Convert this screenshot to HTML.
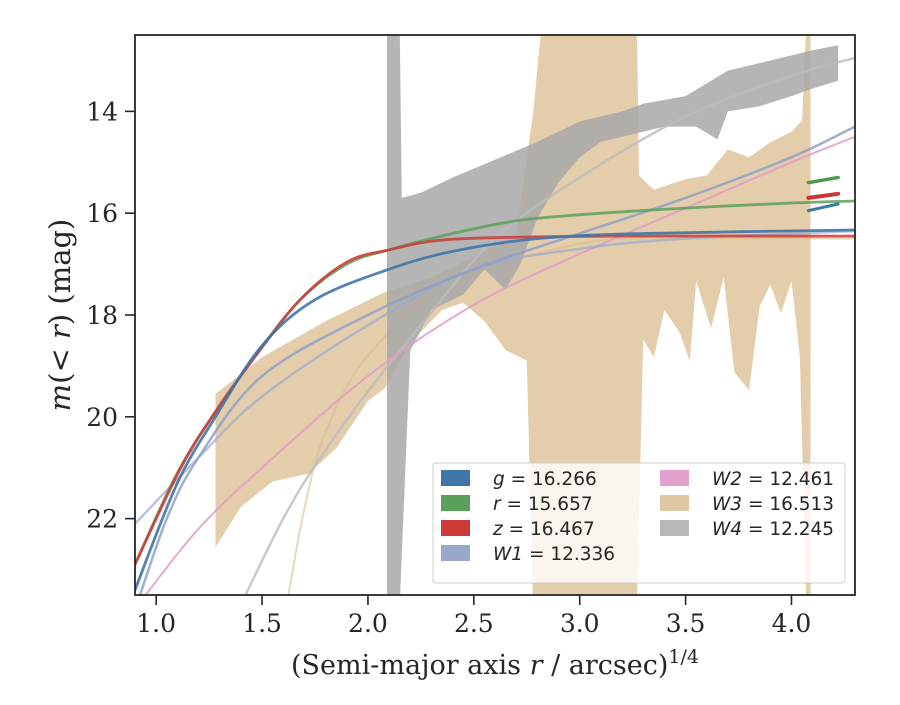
<!DOCTYPE html>
<html><head><meta charset="utf-8">
<style>
body{margin:0;background:#fff;}
svg text{font-family:"DejaVu Serif","Liberation Serif",serif;fill:#262626;}
.leg{font-family:"DejaVu Sans","Liberation Sans",sans-serif;font-size:18.5px;}
</style></head>
<body>
<svg id="chart" width="900" height="700" xmlns="http://www.w3.org/2000/svg">
<defs><clipPath id="clip"><rect x="135" y="35" width="720" height="560"/></clipPath></defs>
<rect width="900" height="700" fill="#fff"/>
<g id="plot" clip-path="url(#clip)"></g>
<rect x="135" y="35" width="720" height="560" fill="none" stroke="#262626" stroke-width="1.8"/>
<g id="axes"></g>
<text x="495" y="674" text-anchor="middle" font-size="27">(Semi-major axis <tspan font-style="italic">r</tspan> / arcsec)<tspan dy="-11" font-size="19">1/4</tspan></text>
<text transform="translate(70,315) rotate(-90)" text-anchor="middle" font-size="29"><tspan font-style="italic">m</tspan>(&lt; <tspan font-style="italic">r</tspan>) (mag)</text>
<g id="legend">
<rect x="433" y="463" width="412" height="120" rx="3" fill="#fff" fill-opacity="0.8" stroke="#ccc"/>
</g>
</svg>
<script>
const X0=0.9,X1=4.3,Y0=12.5,Y1=23.5;
const xTicks=[1.0,1.5,2.0,2.5,3.0,3.5,4.0];
const yTicks=[14,16,18,20,22];
const gX=[0.9,1.1,1.28,1.5,1.75,2.1,2.4,2.8,3.3,4.3];
const gY=[23.4,21.3,20.0,18.6,17.7,17.1,16.75,16.5,16.4,16.33];
const rX=[0.9,1.1,1.28,1.47,1.68,1.9,2.1,2.4,2.7,3.0,3.5,4.0,4.3];
const rY=[22.9,21.1,19.9,18.8,17.7,17.0,16.72,16.4,16.15,16.03,15.9,15.8,15.76];
const zX=[0.9,1.11,1.28,1.47,1.68,1.9,2.1,2.34,2.72,3.2,4.3];
const zY=[22.9,21.05,19.9,18.8,17.7,16.96,16.72,16.53,16.47,16.45,16.45];
const w1X=[0.9,1.05,1.2,1.5,2.0,2.5,3.0,3.5,4.0,4.3];
const w1Y=[23.8,22.0,20.8,19.2,18.0,17.1,16.4,15.7,14.9,14.3];
const w1mX=[0.9,1.2,1.5,2.0,2.5,3.0,3.5,4.3];
const w1mY=[22.1,20.8,19.6,18.2,17.1,16.7,16.5,16.35];
const w2X=[0.95,1.2,1.5,2.0,2.5,3.0,3.5,4.0,4.3];
const w2Y=[23.5,22.2,21.0,19.2,17.8,16.8,15.9,15.0,14.5];
const w4X=[1.41,1.6,1.76,2.0,2.29,2.6,3.0,3.5,4.0,4.3];
const w4Y=[23.6,22.0,20.9,19.5,18.0,16.5,15.3,14.1,13.3,12.95];
const w3mX=[1.62,1.7,1.8,2.0,2.4,3.0,3.5,4.3];
const w3mY=[23.6,21.8,20.3,18.8,17.4,16.6,16.5,16.5];
const segX=[4.08,4.22];
const segG=[15.95,15.82];const segR=[15.4,15.3];const segZ=[15.7,15.62];
const w3hiX=[1.28,1.5,1.8,2.08,2.3,2.5,2.7,2.78,2.82,3.27,3.28,3.35,3.5,3.6,3.7,3.8,3.9,4.0,4.05,4.07,4.09];
const w3hiY=[19.55,18.83,18.12,17.55,17.26,16.87,16.4,14.04,12.3,12.3,15.26,15.54,15.33,15.26,14.75,14.9,14.61,14.4,14.18,12.3,12.3];
const w3loX=[1.28,1.4,1.55,1.72,1.85,2.0,2.08,2.2,2.35,2.45,2.55,2.65,2.75,2.78,3.27,3.3,3.35,3.4,3.47,3.52,3.55,3.62,3.68,3.73,3.8,3.85,3.9,3.95,4.0,4.04,4.07,4.09];
const w3loY=[22.56,21.77,21.27,21.12,20.62,19.69,19.44,18.55,17.9,17.76,18.12,18.69,18.9,23.7,23.7,18.48,18.83,17.9,18.33,18.9,17.33,18.26,17.26,19.12,19.48,17.83,17.4,17.97,17.33,18.83,23.7,23.7];
const w4hiX=[2.09,2.15,2.16,2.25,2.4,2.6,2.8,3.0,3.2,3.3,3.5,3.7,3.9,4.0,4.1,4.22];
const w4hiY=[12.3,12.3,15.7,15.6,15.3,14.95,14.6,14.2,14.0,13.85,13.7,13.2,13.0,12.9,12.8,12.7];
const w4loX=[2.09,2.15,2.2,2.3,2.45,2.55,2.6,2.65,2.72,2.8,2.9,3.0,3.1,3.25,3.4,3.55,3.65,3.7,3.85,4.0,4.1,4.22];
const w4loY=[23.7,23.7,18.7,17.9,17.6,17.1,17.3,17.5,17.0,16.1,15.4,14.9,14.6,14.45,14.3,14.3,14.55,14.0,13.9,13.7,13.55,13.4];

const sx=v=>135+(v-X0)/(X1-X0)*720;
const sy=v=>35+(v-Y0)/(Y1-Y0)*560;
const NS='http://www.w3.org/2000/svg';
const plot=document.getElementById('plot');
const axes=document.getElementById('axes');
function mk(tag,attrs,parent){const e=document.createElementNS(NS,tag);for(const k in attrs)e.setAttribute(k,attrs[k]);parent.appendChild(e);return e;}
function pts(xs,ys){return xs.map((x,i)=>sx(x).toFixed(1)+','+sy(ys[i]).toFixed(1));}
function smooth(xs,ys){
  const P=xs.map((x,i)=>[sx(x),sy(ys[i])]);
  let d='M'+P[0][0].toFixed(1)+','+P[0][1].toFixed(1);
  for(let i=0;i<P.length-1;i++){
    const p0=P[Math.max(0,i-1)],p1=P[i],p2=P[i+1],p3=P[Math.min(P.length-1,i+2)];
    const c1=[p1[0]+(p2[0]-p0[0])/6,p1[1]+(p2[1]-p0[1])/6];
    const c2=[p2[0]-(p3[0]-p1[0])/6,p2[1]-(p3[1]-p1[1])/6];
    d+=' C'+c1.map(v=>v.toFixed(1)).join(',')+' '+c2.map(v=>v.toFixed(1)).join(',')+' '+p2[0].toFixed(1)+','+p2[1].toFixed(1);
  }
  return d;
}
function band(xh,yh,xl,yl,fill,op,name){
  const p=pts(xh,yh).concat(pts(xl,yl).reverse());
  const e=mk('polygon',{points:p.join(' '),fill:fill,'fill-opacity':op},plot);
  
  
}
function line(xs,ys,col,w,op,name){
  const e=mk('path',{d:smooth(xs,ys),fill:'none',stroke:col,'stroke-width':w,'stroke-opacity':op,'stroke-linejoin':'round','stroke-linecap':'round'},plot);
  
  
}
band(w3hiX,w3hiY,w3loX,w3loY,'#d9bc8f',0.75,'w3-band');
line(w3mX,w3mY,'#d9bc8f',2,0.6,'w3-model-line');
band(w4hiX,w4hiY,w4loX,w4loY,'#a8a8a8',0.85,'w4-band');
line(w4X,w4Y,'#bbbbbb',2.5,0.8,'w4-line');
line(w2X,w2Y,'#e39bc8',2,0.85,'w2-line');
line(w1mX,w1mY,'#9aaad0',2.5,0.7,'w1-model-line');
line(w1X,w1Y,'#8fa0c8',2.5,0.85,'w1-line');
line(rX,rY,'#5aa05a',2.8,0.85,'r-line');
line(zX,zY,'#cc3a3a',2.8,0.85,'z-line');
line(gX,gY,'#3f76a8',2.8,0.9,'g-line');
line(segX,segG,'#3f76a8',3,1,'g-segment');
line(segX,segR,'#4f9a4f',3.5,1,'r-segment');
line(segX,segZ,'#cc3333',4,1,'z-segment');

xTicks.forEach(t=>{
  const l=mk('line',{x1:sx(t),x2:sx(t),y1:595,y2:605,stroke:'#262626','stroke-width':1.6},axes);
  
  
  const tx=mk('text',{x:sx(t),y:632,'text-anchor':'middle','font-size':25},axes);
  tx.textContent=t.toFixed(1);
  
  
});
yTicks.forEach(t=>{
  const l=mk('line',{x1:125,x2:135,y1:sy(t),y2:sy(t),stroke:'#262626','stroke-width':1.6},axes);
  
  
  const tx=mk('text',{x:118,y:sy(t)+9,'text-anchor':'end','font-size':25},axes);
  tx.textContent=String(t);
  
  
});

const legNames=['g','r','z','W1','W2','W3','W4'];
const legVals=['16.266','15.657','16.467','12.336','12.461','16.513','12.245'];
const legCols=['#3f76a8','#5aa05a','#cc3a3a','#97a8cb','#e3a0cf','#dfc7a4','#b8b8b8'];
const leg=document.getElementById('legend');
legNames.forEach((n,i)=>{
  const col=i<4?0:1,row=i<4?i:i-4;
  const px=col?660:441,py=470+row*25;
  const r=mk('rect',{x:px,y:py,width:29,height:16,fill:legCols[i]},leg);
  
  
  const t=mk('text',{x:col?712:493,y:py+15,'class':'leg'},leg);
  t.innerHTML='<tspan font-style="italic">'+n+'</tspan> = '+legVals[i];
  
  
});
</script>
</body></html>
